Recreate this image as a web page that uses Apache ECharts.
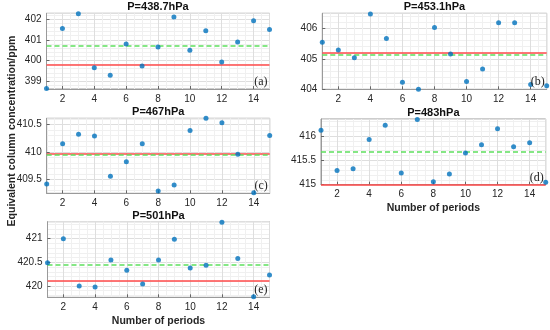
<!DOCTYPE html>
<html><head><meta charset="utf-8">
<script src="https://cdn.jsdelivr.net/npm/echarts@6/dist/echarts.min.js"></script>
<style>html,body{margin:0;padding:0;background:#fff}#c{width:550px;height:330px}</style>
</head><body><div id="c"></div>
<script>
// ---- data ----
const periods = [1,2,3,4,5,6,7,8,9,10,11,12,13,14,15];
const panelTitles = ['P=438.7hPa','P=453.1hPa','P=467hPa','P=483hPa','P=501hPa'];
const panelTags = ['(a)','(b)','(c)','(d)','(e)'];
const valuesA = [398.65,401.55,402.26,399.65,399.28,400.79,399.73,400.65,402.10,400.49,401.44,399.92,400.89,401.92,401.50];
const valuesB = [405.55,405.29,405.04,406.48,405.67,404.23,404.00,406.03,405.16,404.26,404.67,406.19,406.19,404.16,404.12];
const valuesC = [409.42,410.15,410.32,410.29,409.56,409.82,410.15,409.29,409.40,410.39,410.61,410.53,409.96,409.26,410.30];
const valuesD = [416.12,415.29,415.33,415.93,416.22,415.24,416.34,415.06,415.22,415.65,415.82,416.15,415.78,415.86,415.05];
const valuesE = [420.49,421.00,420.00,419.98,420.55,420.33,420.04,420.55,420.99,420.38,420.44,421.35,420.58,419.77,420.23];
const redLineValues   = [399.81, 405.20, 409.97, 415.00, 420.11];
const greenLineValues = [400.72, 405.13, 409.95, 415.67, 420.44];
const yMins = [398.62, 404.00, 409.25, 415.00, 419.76];
const yMaxs = [402.28, 406.50, 410.61, 416.35, 421.36];
const yTickSteps = [1, 1, 0.5, 0.5, 0.5];
const xTickStep = 2;
const yAxisTitle = 'Equivalent column concentration/ppm';
const xAxisTitle = 'Number of periods';
const allValues = [valuesA, valuesB, valuesC, valuesD, valuesE];

// ---- layout ----
const grids = [
  {left:46.5, top:13.3, width:223, height:75.7},
  {left:322.3, top:13.3, width:224.4, height:76},
  {left:46.7, top:118.3, width:223, height:75},
  {left:321, top:119, width:224.7, height:65.7},
  {left:47.5, top:221.7, width:222, height:75.6}
];
const showXName = [false, false, false, true, true];
const FONT = '"Liberation Sans", Arial, sans-serif';

const isNice = (v, s) => Math.abs(v / s - Math.round(v / s)) < 1e-6;

const xAxes = [], yAxes = [], series = [], graphics = [];
grids.forEach((g, i) => {
  g.show = true; g.borderColor = '#9a9a9a'; g.borderWidth = 1; g.backgroundColor = '#fff';
  g.containLabel = false;
  xAxes.push({
    type:'value', gridIndex:i, min:1, max:15,
    minInterval:xTickStep, maxInterval:xTickStep, splitNumber:7,
    name: showXName[i] ? xAxisTitle : '', nameLocation:'middle', nameGap:18,
    nameTextStyle:{fontFamily:FONT, fontSize:10.5, fontWeight:'bold', color:'#262626'},
    axisLine:{show:true, lineStyle:{color:'#9a9a9a', width:1}},
    axisTick:{show:true, inside:true, length:3, lineStyle:{color:'#666'}},
    axisLabel:{show:true, showMinLabel:false, showMaxLabel:false, fontFamily:FONT, fontSize:10, color:'#262626', margin:5},
    splitLine:{show:true, lineStyle:{color:'#dedede', width:1}},
    minorTick:{show:false, splitNumber:4},
    minorSplitLine:{show:true, lineStyle:{color:'#f0f0f0', width:1}}
  });
  yAxes.push({
    type:'value', gridIndex:i, min:yMins[i], max:yMaxs[i],
    minInterval:yTickSteps[i], maxInterval:yTickSteps[i], splitNumber:3,
    axisLine:{show:true, lineStyle:{color:'#9a9a9a', width:1}},
    axisTick:{show:true, inside:true, length:3, lineStyle:{color:'#666'}},
    axisLabel:{show:true, showMinLabel:isNice(yMins[i], yTickSteps[i]), showMaxLabel:isNice(yMaxs[i], yTickSteps[i]),
      fontFamily:FONT, fontSize:10, color:'#262626', margin:5},
    splitLine:{show:true, lineStyle:{color:'#dedede', width:1}},
    minorTick:{show:false, splitNumber:5},
    minorSplitLine:{show:true, lineStyle:{color:'#f0f0f0', width:1}}
  });
  series.push({
    type:'scatter', xAxisIndex:i, yAxisIndex:i, clip:false,
    data: periods.map((p, k) => [p, allValues[i][k]]),
    symbol:'circle', symbolSize:5, itemStyle:{color:'#0072BD'}, z:5,
    markLine:{
      silent:true, symbol:['none','none'], label:{show:false}, animation:false,
      data:[
        {yAxis:redLineValues[i], lineStyle:{color:'#FF4A4A', type:'solid', width:1.5}},
        {yAxis:greenLineValues[i], lineStyle:{color:'#5EE05E', type:[5,3], width:1.5}}
      ]
    }
  });
  graphics.push({
    type:'text', x:g.left + g.width/2, y:g.top - 6,
    style:{text:panelTitles[i], font:'bold 11px ' + FONT, fill:'#111', align:'center', verticalAlign:'middle'}
  });
  graphics.push({
    type:'text', x:g.left + g.width - 2, y:g.top + g.height - 7, z:10,
    style:{text:panelTags[i], font:'12px "Liberation Serif", "Times New Roman", serif', fill:'#222', align:'right', verticalAlign:'middle'}
  });
});
graphics.push({
  type:'text', x:12, y:131, rotation:Math.PI/2,
  style:{text:yAxisTitle, font:'bold 10.5px ' + FONT, fill:'#262626', align:'center', verticalAlign:'middle'}
});

const chart = echarts.init(document.getElementById('c'), null, {renderer:'canvas'});
chart.setOption({
  animation:false,
  backgroundColor:'#fff',
  grid:grids, xAxis:xAxes, yAxis:yAxes, series:series, graphic:graphics
});
</script></body></html>
